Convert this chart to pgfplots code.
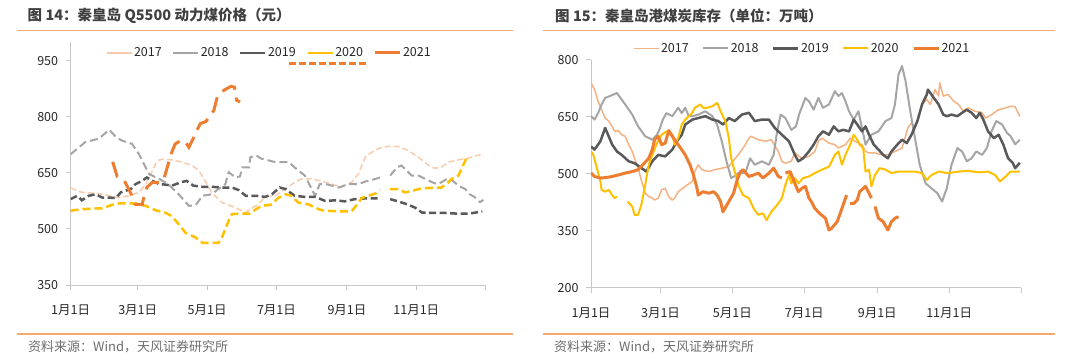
\documentclass[border=0pt]{standalone}
\usepackage{fontspec}
\setmainfont{Noto Sans CJK SC}
\usepackage{pgfplots}
\pgfplotsset{compat=1.18}
\definecolor{c17}{HTML}{F8CBAD}
\definecolor{c17b}{HTML}{F4B183}
\definecolor{c18}{HTML}{A5A5A5}
\definecolor{c19}{HTML}{595959}
\definecolor{c20}{HTML}{FFC000}
\definecolor{c21}{HTML}{ED7D31}
\definecolor{rulec}{HTML}{F5AA6E}
\definecolor{titlec}{HTML}{404040}
\definecolor{notec}{HTML}{6E6E6E}
\definecolor{axc}{HTML}{C8C8C8}
\pgfplotsset{
  common/.style={
    scale only axis,
    xmin=0, xmax=365,
    axis x line*=bottom, axis y line*=left,
    axis line style={axc, line width=1bp},
    xtick={0,59,120,181,243,304,365},
    xticklabels={1月1日,3月1日,5月1日,7月1日,9月1日,11月1日,{}},
    tick align=outside, major tick length=5bp,
    tick style={axc, line width=1bp},
    ticklabel style={font=\fontsize{12.5bp}{14bp}\selectfont, text=black!85},
    /pgf/number format/assume math mode=true,
    yticklabel style={xshift=-4bp},
    xticklabel style={yshift=-11bp},
    unbounded coords=jump,
    legend cell align=left,
    legend image code/.code={\draw[##1,solid] (0bp,0bp) -- (25bp,0bp);},
  }
}
\begin{document}
\begin{tikzpicture}[x=1bp,y=1bp]
\path[use as bounding box] (0,0) rectangle (1080,359);
% titles and rules
\node[anchor=west, inner sep=0, font=\fontsize{14.5bp}{16bp}\selectfont\bfseries, text=titlec] at (27.5,343.5) {图 14：秦皇岛 Q5500 动力煤价格（元）};
\node[anchor=west, inner sep=0, font=\fontsize{14.5bp}{16bp}\selectfont\bfseries, text=titlec] at (555,343.5) {图 15：秦皇岛港煤炭库存（单位：万吨）};
\draw[rulec, line width=1.5bp] (16.5,328.7) -- (513,328.7);
\draw[rulec, line width=1.5bp] (543,328.7) -- (1055,328.7);
\draw[rulec, line width=1.5bp] (16.5,25) -- (513,25);
\draw[rulec, line width=1.5bp] (543,25) -- (1055,25);
\node[anchor=west, inner sep=0, font=\fontsize{13bp}{15bp}\selectfont, text=notec] at (28,12.3) {资料来源：Wind，天风证券研究所};
\node[anchor=west, inner sep=0, font=\fontsize{13bp}{15bp}\selectfont, text=notec] at (554,12.3) {资料来源：Wind，天风证券研究所};

% ---------------- left chart ----------------
\begin{axis}[common,
  at={(70.6bp,74bp)}, anchor=south west,
  width=415.1bp, height=242.7bp,
  ymin=350, ymax=1000,
  ytick={350,500,650,800,950},
  legend style={at={(0.0853,0.956)}, anchor=west, draw=none, fill=none,
    inner sep=0pt, outer sep=0pt, legend columns=-1,
    font=\fontsize{12.5bp}{14bp}\selectfont, text=black!85,
    nodes={inner sep=1.5bp},
    /tikz/every even column/.append style={column sep=9bp}},
]
\addplot[c17, line width=1.5bp, dash pattern=on 6bp off 3bp] table {
x y
0 610
10 598
25 595
34 589
42 584
51 589
60 598
66 620
72 656
76 683
81 687
89 685
98 679
107 670
113 656
119 625
124 598
133 571
145 557
154 544
160 557
165 566
171 586
180 589
189 607
197 625
203 634
212 634
221 628
230 620
238 613
247 625
253 647
259 692
265 706
272 717
279 721
288 721
297 710
306 692
315 670
320 663
326 665
332 679
341 685
350 690
356 696
362 700
};
\addlegendentry{2017}
\addplot[c18, line width=2bp, dash pattern=on 8bp off 4bp] table {
x y
0 700
13 733
25 742
34 766
40 746
45 737
54 728
60 701
69 647
78 634
86 620
95 593
104 562
110 564
116 589
124 593
130 607
136 620
139 652
145 638
149 641
151 665
157 665
158 692
163 697
168 688
175 683
180 679
192 679
197 665
206 643
212 607
215 589
219 620
222 622
230 616
236 611
244 620
253 620
259 627
268 634
272 638
276 nan
281 643
287 665
291 670
300 643
306 643
312 634
318 625
323 620
331 634
335 632
341 616
347 607
351 593
355 586
360 572
363 578
};
\addlegendentry{2018}
\addplot[c19, line width=2.5bp, dash pattern=on 7bp off 3.5bp] table {
x y
0 580
6 589
10 577
16 589
22 593
28 584
34 584
40 583
44 598
48 602
53 607
57 620
63 629
67 638
72 629
78 620
83 619
89 616
97 625
102 629
108 616
116 613
124 613
133 611
142 611
148 604
154 589
163 589
171 586
177 593
184 611
189 607
197 589
206 586
215 586
224 575
233 577
241 574
250 580
259 582
268 582
272 582
276 nan
281 580
288 574
297 565
303 557
309 544
318 543
329 543
341 541
350 541
356 544
362 547
};
\addlegendentry{2019}
\addplot[c20, line width=2.5bp, dash pattern=on 8bp off 4bp] table {
x y
0 549
10 553
22 555
28 555
34 562
40 568
48 569
57 568
66 562
75 550
83 544
89 535
95 513
101 490
110 477
116 463
124 463
130 463
133 477
139 522
142 540
148 541
157 541
163 553
168 562
176 565
183 584
189 593
194 589
200 571
209 566
215 557
221 550
230 548
238 547
247 547
252 566
256 583
262 589
268 595
272 604
276 nan
281 607
288 607
294 598
300 602
309 609
318 610
326 611
331 622
335 634
341 643
347 683
348 690
};
\addlegendentry{2020}
\addplot[c21, line width=3bp, dash pattern=on 16bp off 8bp] table {
x y
37 680
41 640
48 625
53 595
57 566
63 566
64 580
67 611
70 620
72 625
78 625
82 634
85 665
89 706
92 728
97 737
101 733
104 719
107 737
111 764
114 782
119 788
122 800
126 818
129 854
135 872
141 882
144 880
146 845
149 840
};
\addlegendentry{2021}
\addplot[c21, line width=3bp, dash pattern=on 7bp off 3bp, forget plot] coordinates {(192,942) (261,942)};
\end{axis}

% ---------------- right chart ----------------
\begin{axis}[common,
  at={(591bp,71.3bp)}, anchor=south west,
  width=430bp, height=227.7bp,
  ymin=200, ymax=800,
  ytick={200,350,500,650,800},
  legend style={at={(0.0977,1.0514)}, anchor=west, draw=none, fill=none,
    inner sep=0pt, outer sep=0pt, legend columns=-1,
    font=\fontsize{12.5bp}{14bp}\selectfont, text=black!85,
    nodes={inner sep=1.5bp},
    /tikz/every even column/.append style={column sep=12bp}},
]
\addplot[c17b, line width=1.5bp, line join=round] table {
x y
0 740
3 722
6 691
9 669
12 647
15 639
18 625
20 612
23 614
26 603
29 599
32 577
35 559
37 541
40 515
43 480
46 449
49 440
52 436
54 431
57 436
60 458
63 462
66 440
69 431
71 436
74 453
80 467
86 480
88 506
91 524
94 511
100 506
105 511
111 515
117 519
119 528
125 550
131 577
134 594
136 599
139 594
142 590
148 586
153 590
159 559
162 533
165 528
170 533
173 555
179 541
185 546
190 559
193 586
196 594
202 581
207 577
210 568
216 577
220 594
224 586
230 577
233 559
236 555
241 555
247 550
252 550
258 559
264 568
269 621
272 634
275 621
278 647
281 683
285 696
288 683
292 722
295 705
296 740
299 705
303 709
308 691
312 683
316 665
320 674
326 665
332 661
335 647
340 656
346 669
352 674
356 678
360 677
364 651
};
\addlegendentry{2017}
\addplot[c18, line width=2bp, line join=round] table {
x y
0 652
3 643
6 660
9 683
12 700
16 705
22 713
25 700
29 683
35 656
40 625
46 599
52 590
56 603
58 616
61 643
64 660
69 652
74 674
77 660
80 674
83 652
86 652
91 656
97 665
103 652
107 630
111 586
115 533
119 489
122 494
125 502
131 502
135 541
139 524
145 533
151 524
155 550
158 612
161 656
165 647
170 616
174 625
177 660
182 700
185 691
189 669
193 700
197 674
202 683
207 718
210 705
213 713
216 691
219 665
223 643
227 665
230 621
233 577
238 603
244 612
250 639
255 647
258 683
261 762
264 784
267 744
271 665
275 594
279 524
284 475
289 462
294 449
298 427
302 462
306 524
311 568
315 559
319 533
323 541
327 559
332 550
336 568
340 612
344 639
349 630
353 608
356 600
360 578
364 590
};
\addlegendentry{2018}
\addplot[c19, line width=2.5bp, line join=round] table {
x y
0 572
3 564
8 586
12 621
15 599
18 577
22 559
26 550
32 533
37 528
43 515
47 506
52 533
57 550
63 546
69 564
73 586
77 603
80 630
86 643
91 647
97 652
103 643
108 639
112 630
117 647
122 639
128 656
134 661
139 639
145 643
151 643
156 621
162 603
168 586
173 550
176 533
180 541
185 559
189 577
193 599
197 612
202 603
206 625
210 612
214 616
219 612
223 643
226 630
230 612
233 625
236 603
240 577
244 564
248 550
252 541
255 559
260 577
264 590
268 581
272 603
277 639
281 683
285 709
286 722
291 700
295 683
299 656
302 652
306 656
311 652
315 661
319 669
323 661
327 647
330 661
333 643
337 612
342 594
346 603
350 577
354 541
358 529
360 515
364 529
};
\addlegendentry{2019}
\addplot[c20, line width=2bp, line join=round] table {
x y
0 559
2 550
5 515
8 480
9 458
12 453
15 458
18 444
20 436
22 440
23 nan
31 427
35 414
37 392
40 392
43 422
46 471
49 524
52 550
56 581
60 603
64 612
69 603
71 577
74 594
77 630
80 643
83 652
86 661
88 674
93 683
95 674
98 674
103 678
107 687
110 665
114 639
117 594
119 541
122 506
125 471
129 444
134 436
138 409
142 392
146 396
149 378
153 400
158 418
162 436
165 471
168 497
170 475
173 489
176 475
180 489
185 493
190 502
196 511
202 519
207 550
210 559
213 524
216 550
220 577
223 603
226 590
228 577
231 568
233 506
236 511
238 467
241 497
245 515
250 511
255 502
261 506
267 506
275 506
281 502
285 484
289 497
295 506
303 502
312 506
320 508
329 504
337 506
343 497
347 480
352 493
356 506
364 506
};
\addlegendentry{2020}
\addplot[c21, line width=3bp, line join=round] table {
x y
0 502
3 493
8 489
12 490
18 493
23 497
29 502
35 506
40 511
44 524
49 541
52 564
54 590
57 599
60 577
63 581
66 614
69 599
71 590
76 568
80 550
84 524
87 497
90 462
91 444
95 453
100 449
104 453
107 444
110 427
112 400
117 427
121 449
124 484
127 506
129 511
134 493
138 497
142 502
146 489
151 502
155 515
159 493
162 489
163 nan
165 502
169 506
173 475
176 453
179 462
182 467
185 436
187 427
190 409
194 396
199 383
202 352
204 356
209 374
213 409
216 436
217 444
218 nan
220 422
223 422
226 431
228 453
233 467
236 449
238 436
239 nan
241 414
244 383
248 374
252 352
255 374
258 383
261 387
};
\addlegendentry{2021}
\end{axis}
\end{tikzpicture}
\end{document}
